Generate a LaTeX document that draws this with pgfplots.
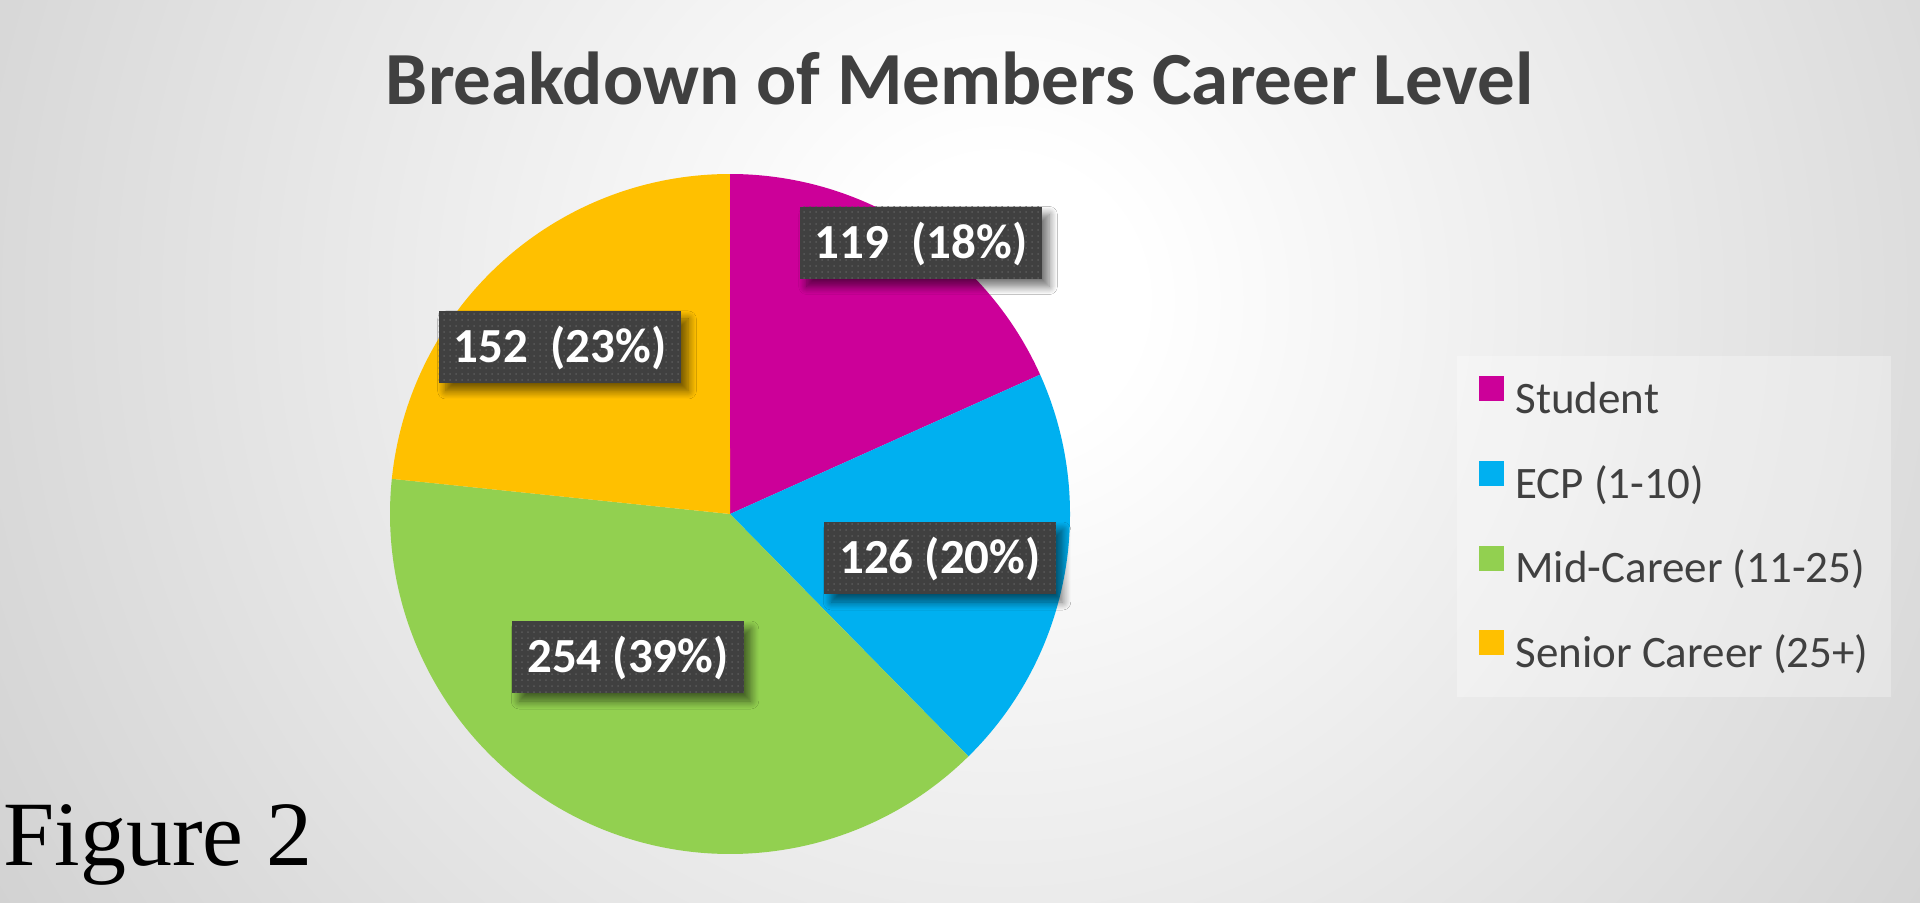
\documentclass[border=0pt]{standalone}
\usepackage{pgfplots}
\pgfplotsset{compat=1.18}
\usepackage{pgfplotstable}
\usepackage{fontspec}
\setmainfont{Carlito}
\newfontfamily\timesfont{Liberation Serif}
\usetikzlibrary{shadows,shadows.blur,patterns}

\definecolor{cStudent}{HTML}{CC0099}
\definecolor{cECP}{HTML}{00B0F0}
\definecolor{cMid}{HTML}{92D050}
\definecolor{cSenior}{HTML}{FFC000}
\definecolor{titlegray}{HTML}{404040}
\definecolor{legtext}{HTML}{404040}
\definecolor{boxgray}{HTML}{404040}
\definecolor{dotgray}{HTML}{5A5A5A}
\definecolor{bgedge}{HTML}{BEBEBE}
\pgfdeclareradialshading{bgshade}{\pgfpoint{0bp}{0bp}}{color(0bp)=(white); color(3.5bp)=(white); color(40.7bp)=(bgedge); color(50bp)=(bgedge)}

\pgfplotstableread{
label value
Student 119
ECP 126
Mid 254
Senior 152
}\careerdata

\tikzset{lbl/.style={fill=boxgray, text=white, font=\bfseries\fontsize{24.5}{29}\selectfont,
  minimum height=36pt, inner xsep=7.5pt, inner ysep=0pt, text height=15.5pt, text depth=0pt,
  blur shadow={shadow xshift=3.5pt, shadow yshift=-4pt, shadow blur radius=4pt, shadow blur steps=10, shadow opacity=55},
  postaction={pattern=dots, pattern color=dotgray}}}

\begin{document}
\begin{tikzpicture}[x=0.5pt,y=0.5pt]
\pgfplotstablegetelem{0}{value}\of\careerdata \let\vA\pgfplotsretval
\pgfplotstablegetelem{1}{value}\of\careerdata \let\vB\pgfplotsretval
\pgfplotstablegetelem{2}{value}\of\careerdata \let\vC\pgfplotsretval
\pgfplotstablegetelem{3}{value}\of\careerdata \let\vD\pgfplotsretval
\pgfmathsetmacro\tot{\vA+\vB+\vC+\vD}
\pgfmathsetmacro\aA{90-\vA/\tot*360}
\pgfmathsetmacro\aB{\aA-\vB/\tot*360}
\pgfmathsetmacro\aC{\aB-\vC/\tot*360}
\pgfmathsetmacro\aD{\aC-\vD/\tot*360}

\fill[bgedge] (0,0) rectangle (1920,902);
\begin{scope}
\clip (0,0) rectangle (1920,902);
\shade[shading=bgshade] (0,-398) rectangle (2000,1602);
\end{scope}

\begin{axis}[at={(0,0)}, anchor=south west, scale only axis, width=960pt, height=451pt,
  xmin=0, xmax=1920, ymin=0, ymax=902, hide axis, clip=false,
  legend image code/.code={\fill[#1, fill opacity=1] (0pt,0.5pt) rectangle (12.5pt,13pt); \path (18pt,0pt);},
  legend style={at={(axis description cs:0.75885,0.60532)}, anchor=north west, draw=none,
    fill=white, fill opacity=0.3, text opacity=1, inner xsep=11pt, inner ysep=10pt,
    row sep=18.8pt, font=\fontsize{22.5}{27}\selectfont, text=legtext,
    nodes={inner sep=0pt, text height=16pt, text depth=5pt}},
  legend cell align=left]

\fill[cStudent] (axis cs:730,388) -- ++(90:170pt) arc[start angle=90, end angle=\aA, radius=170pt] -- cycle;
\fill[cECP] (axis cs:730,388) -- ++(\aA:170pt) arc[start angle=\aA, end angle=\aB, radius=170pt] -- cycle;
\fill[cMid] (axis cs:730,388) -- ++(\aB:170pt) arc[start angle=\aB, end angle=\aC, radius=170pt] -- cycle;
\fill[cSenior] (axis cs:730,388) -- ++(\aC:170pt) arc[start angle=\aC, end angle=\aD, radius=170pt] -- cycle;

\node[lbl] at (axis cs:921,659.5) {119~~(18\%)};
\node[lbl] at (axis cs:940,344) {126 (20\%)};
\node[lbl] at (axis cs:628,245) {254 (39\%)};
\node[lbl] at (axis cs:560,555) {152~~(23\%)};

\node[anchor=base, font=\bfseries\fontsize{37.5}{45}\selectfont, text=titlegray] at (axis cs:960,798) {Breakdown of Members Career Level};
\node[anchor=base west, inner sep=0pt, font=\timesfont\fontsize{46}{55}\selectfont] at (axis cs:3,37) {Figure 2};

\addlegendimage{fill=cStudent, draw=none}
\addlegendentry{Student}
\addlegendimage{fill=cECP, draw=none}
\addlegendentry{ECP (1-10)}
\addlegendimage{fill=cMid, draw=none}
\addlegendentry{Mid-Career (11-25)}
\addlegendimage{fill=cSenior, draw=none}
\addlegendentry{Senior Career (25+)}
\end{axis}
\end{tikzpicture}
\end{document}
